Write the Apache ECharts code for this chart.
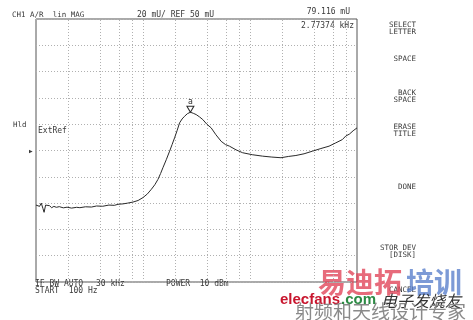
<!DOCTYPE html>
<html><head><meta charset="utf-8">
<script src="https://cdn.jsdelivr.net/npm/echarts@6/dist/echarts.min.js"></script>
<style>html,body{margin:0;padding:0;background:#fff}#c{width:473px;height:320px}</style>
</head><body><div id="c"></div>
<script>
// Trace: frequency (Hz, log sweep 100 Hz .. 100 kHz) and linear magnitude (mU)
const freqHz = [100,104,108,112,116,119,123,128,134,140,147,155,165,180,195,215,240,257,290,330,368,420,480,540,584,650,720,807,900,1000,1100,1197,1290,1379,1460,1535,1650,1773,1870,1972,2080,2197,2320,2445,2600,2774,2950,3143,3380,3622,3950,4337,4800,5373,5900,6427,7400,8539,10500,13120,16000,19460,23000,26850,32000,38340,46000,54830,63300,72960,78500,85000,92000,100000];
const magMU  = [8.5,9.5,7.5,10.0,6.0,3.0,8.5,7.0,8.0,6.5,7.5,6.8,7.3,6.4,6.9,6.2,6.8,6.5,7.2,7.0,7.8,7.6,8.5,8.3,9.1,9.4,10.0,10.8,12.0,14.2,17.0,20.5,24.0,28.0,32.5,36.9,43.0,49.5,54.5,59.6,65.0,71.0,74.0,76.0,78.0,79.1,78.3,77.3,75.5,73.5,70.0,67.2,62.0,57.0,54.5,53.3,50.5,48.3,46.8,45.7,45.0,44.5,45.5,46.2,47.5,49.5,51.5,53.3,55.8,58.3,61.0,62.5,65.0,67.2];
const refMU = 50;          // REF 50 mU (centre line)
const perDivMU = 20;       // 20 mU/div
const divisions = 10;
const startHz = 100, stopHz = 100000;
const vGridHz = [200,400,600,800,1000,2000,4000,6000,8000,10000,20000,40000,60000,80000];
const markerHz = 2773.74;
const markerMU = 79.116;
const markerLabel = 'a';
const headerLeft = 'CH1 A/R  lin MAG';
const headerScale = '20 mU/ REF 50 mU';
const markerValueText = '79.116 mU';
const markerFreqText = '2.77374 kHz';
const softkeys = [['SELECT','LETTER'],['SPACE'],['BACK','SPACE'],['ERASE','TITLE'],['DONE'],['STOR DEV','[DISK]'],['CANCEL']];
const footer1 = ['IF BW AUTO', '30 kHz', 'POWER  10 dBm'];
const footer2 = 'START  100 Hz';

const chart = echarts.init(document.getElementById('c'), null, {renderer:'canvas'});
const half = perDivMU * divisions / 2;
const mono = 'DejaVu Sans Mono';
const txtColor = '#3a3a3a';
function T(text, x, y, size, align, extra) {
  return Object.assign({type:'text', x:x, y:y, silent:true,
    style:{text:text, font: size + 'px "' + mono + '"', fill: txtColor, textAlign: align || 'left', textVerticalAlign:'middle'}}, extra || {});
}
const skY = [[25,32],[59],[93,100],[127,134],[187],[248,255],[290]];
const graphics = [
  T(headerLeft, 12, 15, 7.5),
  T(headerScale, 137, 15, 8),
  T(markerValueText, 350, 12, 8, 'right'),
  T(markerFreqText, 354, 26, 8, 'right'),
  T('Hld', 13, 125, 7.5),
  T('ExtRef', 38, 131, 8),
  T('\u25B6', 29, 151, 6),
  T(footer1[0], 35, 284, 8),
  T(footer1[1], 96, 284, 8),
  T(footer1[2], 166, 284, 8),
  T(footer2, 35, 291, 8)
];
softkeys.forEach((k, i) => k.forEach((line, j) => graphics.push(T(line, 416, skY[i][j], 7.5, 'right'))));
// watermark
graphics.push({type:'text', x:318, y:282, silent:true, style:{text:'易迪拓', font:'bold 28px "Noto Sans CJK SC"', fill:'rgba(225,70,90,0.8)', textVerticalAlign:'middle'}});
graphics.push({type:'text', x:406, y:282, silent:true, style:{text:'培训', font:'bold 28px "Noto Sans CJK SC"', fill:'rgba(80,120,200,0.75)', textVerticalAlign:'middle'}});
graphics.push({type:'text', x:280, y:300, silent:true, style:{text:'elecfans', font:'bold 15px "Liberation Sans"', fill:'#c8162e', textVerticalAlign:'middle'}});
graphics.push({type:'text', x:341, y:300, silent:true, style:{text:'.com', font:'bold 15px "Liberation Sans"', fill:'#2c8a44', textVerticalAlign:'middle'}});
graphics.push({type:'text', x:381, y:301, silent:true, style:{text:'电子发烧友', font:'italic 16px "Noto Sans CJK SC"', fill:'#333', textVerticalAlign:'middle'}});
graphics.push({type:'text', x:295, y:312, silent:true, style:{text:'射频和天线设计专家', font:'19px "Noto Sans CJK SC"', fill:'#8a8a8a', textVerticalAlign:'middle'}});

chart.setOption({
  animation:false,
  backgroundColor:'#fff',
  grid:{left:36, right:116, top:19, bottom:38, show:true, borderColor:'#555', borderWidth:1, backgroundColor:'transparent'},
  xAxis:{type:'log', logBase:10, min:startHz, max:stopHz,
    axisLine:{show:false}, axisTick:{show:false}, axisLabel:{show:false}, splitLine:{show:false}},
  yAxis:{type:'value', min:-half, max:half, interval:perDivMU,
    axisLine:{show:false}, axisTick:{show:false}, axisLabel:{show:false},
    splitLine:{show:true, lineStyle:{color:'#b0b0b0', type:[1,2], width:1}}},
  series:[{
    type:'line', data: freqHz.map((f,i)=>[f, magMU[i]-refMU]),
    showSymbol:false, symbol:'none', lineStyle:{color:'#2a2a2a', width:1}, z:5,
    markLine:{silent:true, symbol:['none','none'], label:{show:false},
      lineStyle:{color:'#b0b0b0', type:[1,2], width:1}, animation:false,
      data: vGridHz.map(f=>({xAxis:f}))},
    markPoint:{silent:true, animation:false,
      data:[{coord:[markerHz, markerMU-refMU], symbol:'triangle', symbolRotate:180, symbolSize:[7,6], symbolOffset:[0,-3],
        itemStyle:{color:'#fff', borderColor:'#2a2a2a', borderWidth:1},
        label:{show:true, formatter:markerLabel, position:'top', distance:0, color:'#2a2a2a', fontSize:8, fontFamily:mono}}]}
  }],
  graphic: graphics
});
</script></body></html>
